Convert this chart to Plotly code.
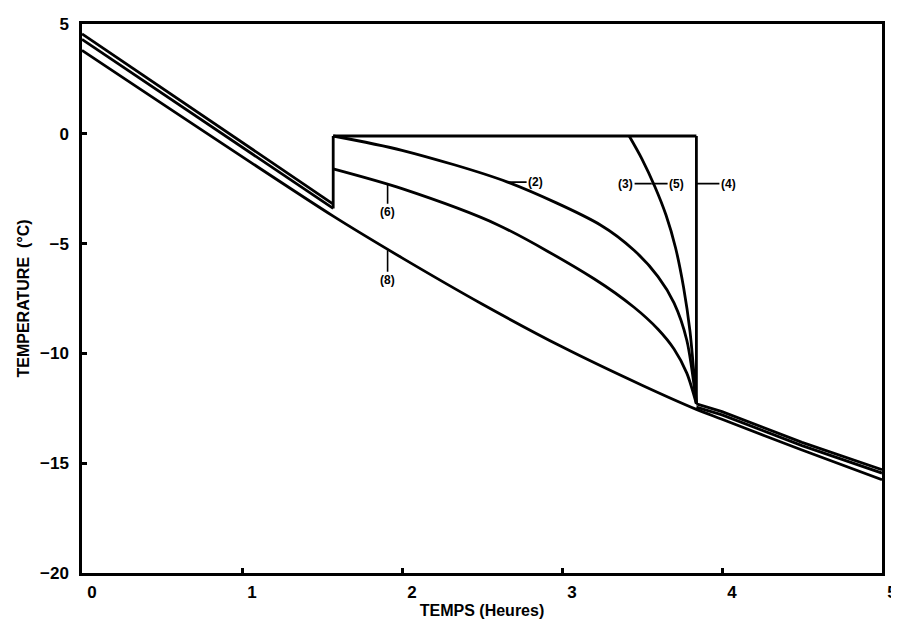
import plotly.graph_objects as go

# ---- data ----
# initial cooling lines (0 h -> 1.57 h)
x_cool = [0.0, 1.57]
y_cool_a = [4.55, -3.2]
y_cool_b = [4.3, -3.4]

# plateau near 0 °C and the two vertical jumps
x_plateau = [1.57, 3.84]
y_plateau = [-0.1, -0.1]
x_jump1 = [1.57, 1.57]
y_jump1 = [-3.4, -0.1]
x_jump2 = [3.84, 3.84]
y_jump2 = [-0.1, -12.3]

# tails after 3.84 h
x_tail = [3.84, 4.0, 4.5, 5.0]
y_tail_a = [-12.3, -12.65, -14.05, -15.3]
y_tail_b = [-12.45, -12.8, -14.2, -15.45]

# curves (3)/(5): leave plateau at ~3.42 h
x_c35 = [3.42, 3.5, 3.58, 3.65, 3.71, 3.76, 3.8, 3.84]
y_c35 = [-0.1, -1.15, -2.4, -3.7, -5.2, -7.0, -9.0, -12.3]

# curve (2)
x_c2 = [1.57, 2.0, 2.66, 3.24, 3.45, 3.6, 3.7, 3.78, 3.84]
y_c2 = [-0.1, -0.75, -2.2, -4.15, -5.3, -6.5, -7.7, -9.4, -12.3]

# curve (6)
x_c6 = [1.57, 2.0, 2.6, 3.2, 3.45, 3.6, 3.7, 3.78, 3.84]
y_c6 = [-1.6, -2.5, -4.15, -6.6, -7.9, -8.9, -9.8, -10.9, -12.3]

# curve (8)
x_c8 = [0.0, 1.57, 2.0, 2.5, 3.0, 3.5, 3.84, 4.0, 4.5, 5.0]
y_c8 = [3.8, -3.75, -5.65, -7.75, -9.7, -11.45, -12.55, -13.0, -14.4, -15.75]

x_ticks = [0, 1, 2, 3, 4, 5]
y_ticks = [5, 0, -5, -10, -15, -20]

line = dict(color="black", width=2.8)

fig = go.Figure()
straight = [
    (x_cool, y_cool_a), (x_cool, y_cool_b),
    (x_plateau, y_plateau), (x_jump1, y_jump1), (x_jump2, y_jump2),
    (x_tail, y_tail_a), (x_tail, y_tail_b),
]
for xs, ys in straight:
    fig.add_trace(go.Scatter(x=xs, y=ys, mode="lines", line=line,
                             showlegend=False, hoverinfo="skip"))
for xs, ys in [(x_c35, y_c35), (x_c2, y_c2), (x_c6, y_c6), (x_c8, y_c8)]:
    fig.add_trace(go.Scatter(x=xs, y=ys, mode="lines",
                             line=dict(color="black", width=2.8, shape="spline", smoothing=0.8),
                             showlegend=False, hoverinfo="skip"))

lab_font = dict(family="Liberation Sans", size=12, color="black")

annos = [
    dict(x=1.91, y=-2.3, text="(6)", ax=0, ay=28),
    dict(x=1.91, y=-5.3, text="(8)", ax=0, ay=30),
    dict(x=2.66, y=-2.2, text="(2)", ax=28, ay=0),
    dict(x=3.84, y=-2.27, text="(4)", ax=32, ay=0),
    dict(x=3.56, y=-2.27, text="(3)", ax=-26, ay=0),
    dict(x=3.56, y=-2.27, text="(5)", ax=25, ay=0),
]
for a in annos:
    fig.add_annotation(x=a["x"], y=a["y"], text="<b>" + a["text"] + "</b>",
                       ax=a["ax"], ay=a["ay"], showarrow=True, arrowhead=0,
                       arrowwidth=1.6, arrowcolor="black", font=lab_font)

tick_font = dict(family="Liberation Sans", size=17, color="black")
title_font = dict(family="Liberation Sans", size=16, color="black")

fig.update_xaxes(range=[0, 5], tickvals=x_ticks,
                 ticktext=["<b>%d</b>" % v for v in x_ticks],
                 showgrid=False, zeroline=False, showline=True, mirror=True,
                 linecolor="black", linewidth=2.5, ticks="inside", ticklen=5,
                 tickwidth=3, tickcolor="black", tickfont=tick_font,
                 ticklabelshift=10, ticklabelstandoff=2, ticklabeloverflow="allow",
                 automargin=False,
                 title=dict(text="<b>TEMPS (Heures)</b>", font=title_font, standoff=4))
fig.update_yaxes(range=[-20, 5], tickvals=y_ticks,
                 ticktext=["<b>%d</b>" % v if v >= 0 else "<b>\u2212%d</b>" % (-v) for v in y_ticks],
                 showgrid=False, zeroline=False, showline=True, mirror=True,
                 linecolor="black", linewidth=2.5, ticks="inside", ticklen=5,
                 tickwidth=3, tickcolor="black", tickfont=tick_font,
                 ticklabelstandoff=7, ticklabeloverflow="allow", automargin=False,
                 title=dict(text="<b>TEMPERATURE  (\u00b0C)</b>", font=title_font, standoff=7))

# the page adds an 8 px body margin; plot area placed to match the reference
fig.update_layout(width=899, height=624, plot_bgcolor="white", paper_bgcolor="white",
                  margin=dict(l=74, r=25, t=16, b=59))

fig.write_html("out.html")
